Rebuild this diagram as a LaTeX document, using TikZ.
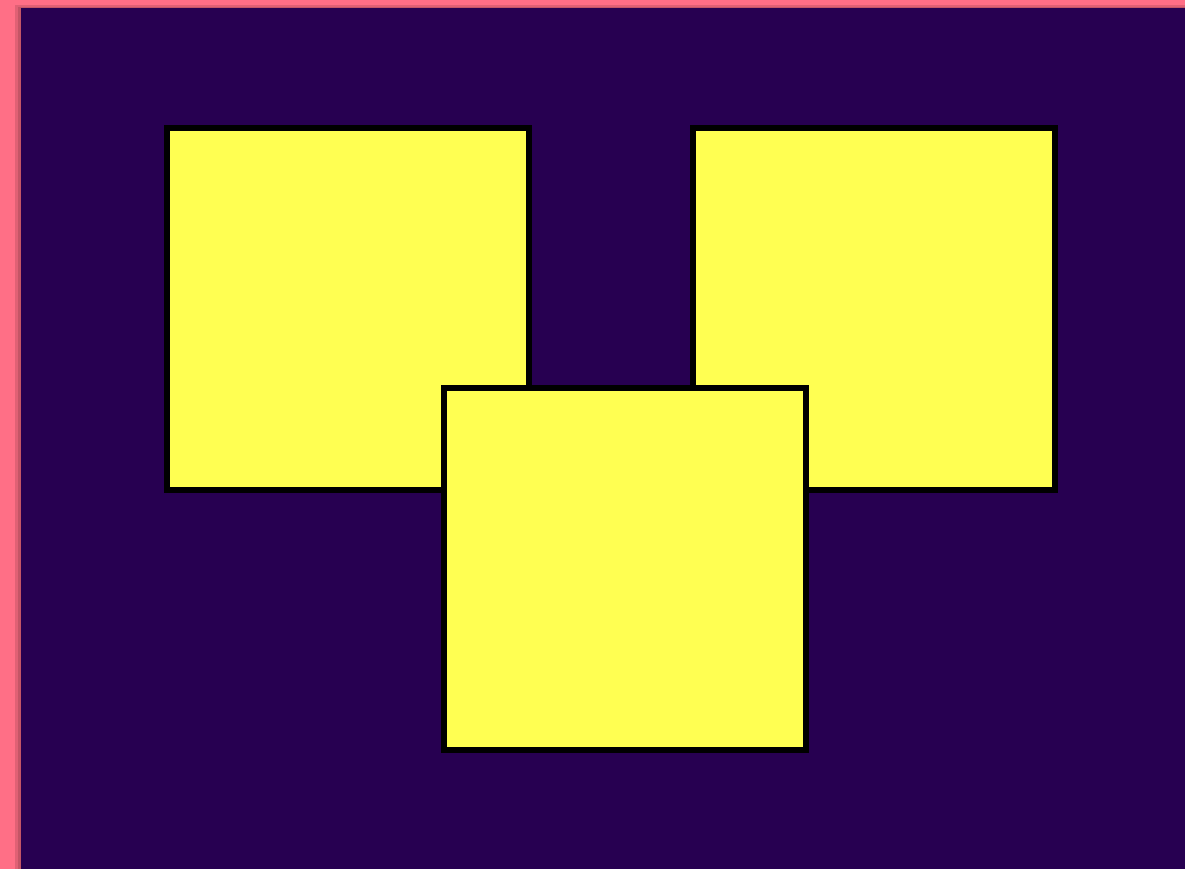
\documentclass[tikz,border=0pt]{standalone}
\usepackage{tikz}
\usetikzlibrary{shadows}
\definecolor{framepink}{RGB}{255,111,134}
\definecolor{deeppurple}{RGB}{39,0,81}
\definecolor{notejaune}{RGB}{255,255,82}
\begin{document}
\begin{tikzpicture}[
  x=0.2mm, y=-0.2mm,
  sqbox/.style={draw=black, fill=notejaune, line width=1.2mm, inner sep=0pt,
                minimum size=72.4mm,
                drop shadow={shadow xshift=0.4mm, shadow yshift=-0.6mm, opacity=0.5}}
]
\useasboundingbox (0,0) rectangle (1185,869);
\fill[framepink] (0,0) rectangle (1185,869);
\fill[black, opacity=0.12] (15,5) rectangle (1185,869);
\fill[black, opacity=0.12] (18,7) rectangle (1185,869);
\fill[deeppurple] (21,8) rectangle (1185,869);

\node[sqbox] (leftsq) at (348,309) {};
\node[sqbox] (rightsq) at (873.5,309) {};
\node[sqbox] (midsq) at (624.5,569) {};
\end{tikzpicture}
\end{document}
